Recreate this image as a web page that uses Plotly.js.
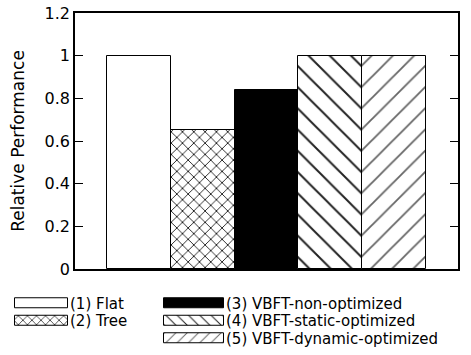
<!DOCTYPE html>
<html>
<head>
<meta charset="utf-8">
<script src="https://cdn.plot.ly/plotly-3.0.1.min.js"></script>
<style>html,body{margin:0;padding:0;background:#fff;}#chart{width:471px;height:355px;}</style>
</head>
<body>
<div id="chart"></div>
<script>
// ---- data ----
var categories = ["(1) Flat", "(2) Tree", "(3) VBFT-non-optimized", "(4) VBFT-static-optimized", "(5) VBFT-dynamic-optimized"];
var values = [1.0, 0.65, 0.84, 1.0, 1.0];
var yTickVals = [0, 0.2, 0.4, 0.6, 0.8, 1.0, 1.2];
var yTickText = ["0", "0.2", "0.4", "0.6", "0.8", "1", "1.2"];

// ---- styles ----
var fills = ["#ffffff", "#ffffff", "#000000", "#ffffff", "#ffffff"];
var patterns = [
  {shape: ""},
  {shape: "x", size: 8, solidity: 0.22, fgcolor: "#222", bgcolor: "#fff"},
  {shape: ""},
  {shape: "\\", size: 15, solidity: 0.13, fgcolor: "#222", bgcolor: "#fff"},
  {shape: "/", size: 15, solidity: 0.12, fgcolor: "#666", bgcolor: "#fff"}
];
var legendIds = ["legend", "legend2", "legend3", "legend4", "legend5"];

var font = "DejaVu Sans, Arial, sans-serif";
var traces = categories.map(function (c, i) {
  return {
    type: "bar",
    x: [c],
    y: [values[i]],
    name: c,
    legend: legendIds[i],
    showlegend: true,
    marker: {color: fills[i], line: {color: "#000", width: 1}, pattern: patterns[i]},
    hoverinfo: "y"
  };
});

var L = 75, R = 13, T = 13, B = 86, W = 471, H = 355;
var pw = W - L - R, ph = H - T - B;
function px2x(px) { return (px - L) / pw; }
function px2y(py) { return (H - B - py) / ph; }

var legendPos = [
  {x: 14, y: 303, w: 53},
  {x: 14, y: 320.5, w: 53},
  {x: 163, y: 303, w: 60},
  {x: 163, y: 320.5, w: 60},
  {x: 163, y: 338, w: 60}
];
var layout = {
  width: W, height: H,
  margin: {l: L, r: R, t: T, b: B, autoexpand: false},
  showlegend: true,
  paper_bgcolor: "#fff", plot_bgcolor: "#fff",
  font: {family: font, size: 16, color: "#000"},
  barmode: "overlay", bargap: 0,
  xaxis: {type: "category", categoryorder: "array", categoryarray: categories,
    range: [-1, 5], showticklabels: false, ticks: "", showgrid: false, zeroline: false,
    showline: true, mirror: true, linecolor: "#000", linewidth: 1.5},
  yaxis: {range: [0, 1.2], tickvals: yTickVals, ticktext: yTickText, ticks: "inside", ticklen: 8,
    tickwidth: 1, tickcolor: "#000", mirror: "ticks", showline: true, linecolor: "#000", linewidth: 1.5,
    showgrid: false, zeroline: false, tickfont: {size: 16},
    title: {text: "Relative Performance", font: {size: 17}, standoff: 16}}
};
legendIds.forEach(function (id, i) {
  layout[id] = {
    x: px2x(legendPos[i].x - 2), xanchor: "left",
    y: px2y(legendPos[i].y), yanchor: "middle",
    bgcolor: "rgba(0,0,0,0)", borderwidth: 0,
    itemwidth: legendPos[i].w - 5,
    font: {family: font, size: 15, color: "#000"},
    itemclick: false, itemdoubleclick: false
  };
});

var gd = document.getElementById("chart");
function widenSymbols() {
  legendIds.forEach(function (id, i) {
    var half = legendPos[i].w / 2;
    var sel = gd.querySelectorAll("g." + id + " .legendpoints path");
    sel.forEach(function (p) {
      p.setAttribute("d", "M" + half + ",5H-" + half + "V-5H" + half + "Z");
    });
  });
}
Plotly.newPlot(gd, traces, layout, {displayModeBar: false}).then(function () {
  widenSymbols();
  gd.on("plotly_afterplot", widenSymbols);
});
</script>
</body>
</html>
